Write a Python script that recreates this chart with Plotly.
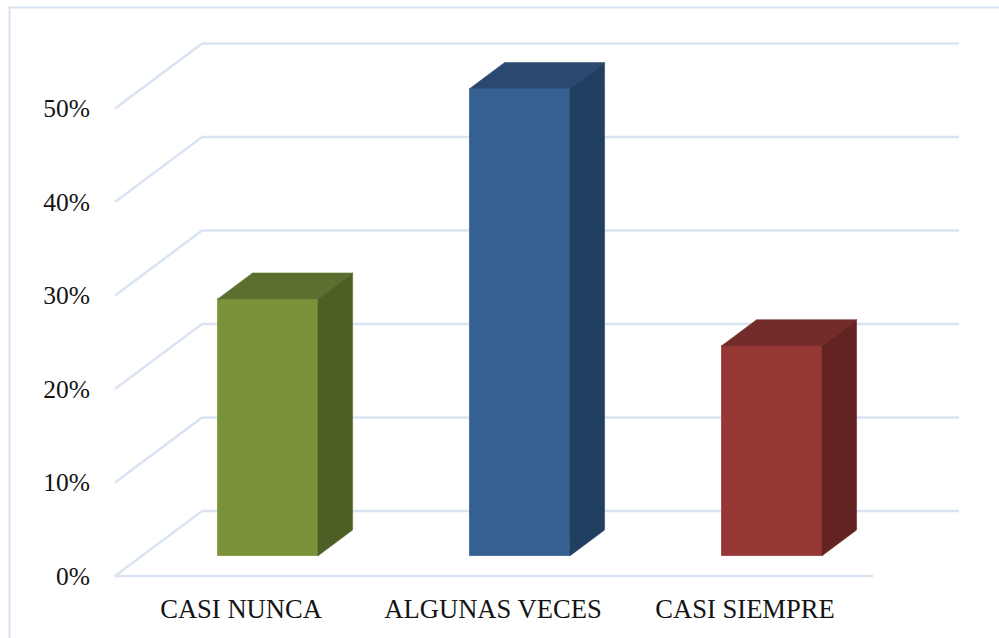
import plotly.graph_objects as go

categories = ['CASI NUNCA', 'ALGUNAS VECES', 'CASI SIEMPRE']
values = [27.5, 50, 22.5]
y_ticks = [0, 10, 20, 30, 40, 50]
y_labels = ['0%', '10%', '20%', '30%', '40%', '50%']

front_colors = ['#7a933b', '#366092', '#953735']
top_colors = ['#5b702f', '#2b4870', '#722b29']
side_colors = ['#4e5f26', '#213f60', '#632320']
edge_colors = ['#8ba24f', '#4d739f', '#a84d4b']
grid_color = '#d9e4f3'

# oblique depth, one unit in x and y per unit of depth
depth_x = 87 / 252
depth_y = 65 / 9.35
bar_width = 100 / 252
bar_near = 20 / 65   # bars start this far into the floor
bar_far = 46 / 65

axis_left = -0.5
floor_right = 2.508
grid_right = 2.849

fig = go.Figure()

# back wall and floor gridlines
for t in y_ticks:
    fig.add_shape(type='line', layer='below', xref='x', yref='y',
                  x0=axis_left, y0=t,
                  x1=axis_left + depth_x, y1=t + depth_y,
                  line=dict(color=grid_color, width=2.5))
    fig.add_shape(type='line', layer='below', xref='x', yref='y',
                  x0=axis_left + depth_x, y0=t + depth_y,
                  x1=grid_right, y1=t + depth_y,
                  line=dict(color=grid_color, width=2.5))
fig.add_shape(type='line', layer='below', xref='x', yref='y',
              x0=axis_left, y0=0, x1=floor_right, y1=0,
              line=dict(color=grid_color, width=2.5))

# front faces
fig.add_trace(go.Bar(
    x=[i + bar_near * depth_x for i in range(len(categories))],
    y=values,
    base=bar_near * depth_y,
    width=bar_width,
    marker=dict(color=front_colors, line=dict(color=edge_colors, width=1)),
    hoverinfo='skip',
    showlegend=False
))

# top and side faces
for i, v in enumerate(values):
    xl = i + bar_near * depth_x - bar_width / 2
    xr = xl + bar_width
    y0 = bar_near * depth_y
    y1 = y0 + v
    dx = (bar_far - bar_near) * depth_x
    dy = (bar_far - bar_near) * depth_y
    fig.add_trace(go.Scatter(
        x=[xl, xr, xr + dx, xl + dx, xl], y=[y1, y1, y1 + dy, y1 + dy, y1],
        mode='lines', fill='toself', fillcolor=top_colors[i],
        line=dict(color=top_colors[i], width=0.5), hoverinfo='skip', showlegend=False
    ))
    fig.add_trace(go.Scatter(
        x=[xr, xr + dx, xr + dx, xr, xr], y=[y0, y0 + dy, y1 + dy, y1, y0],
        mode='lines', fill='toself', fillcolor=side_colors[i],
        line=dict(color=side_colors[i], width=0.5), hoverinfo='skip', showlegend=False
    ))

# outer frame of the chart, runs off the top right of the page
fig.add_shape(type='rect', xref='paper', yref='paper', layer='below',
              x0=(9.5 - 110) / 855, x1=1.2, y0=-0.2, y1=(579 - 7.5) / 549,
              line=dict(color=grid_color, width=2))

fig.update_layout(
    width=999, height=638,
    margin=dict(l=110, r=34, t=30, b=59),
    paper_bgcolor='white', plot_bgcolor='white',
    font=dict(family='Liberation Serif', size=25.5, color='#141414'),
    bargap=0,
    xaxis=dict(range=[-0.52, 2.873], tickmode='array', tickvals=[0, 1, 2],
               ticktext=categories, showgrid=False, zeroline=False, showline=False,
               ticks='', ticklabelstandoff=11, tickfont=dict(size=26.6)),
    yaxis=dict(range=[-0.32, 58.4], tickmode='array', tickvals=y_ticks,
               ticktext=y_labels, showgrid=False, zeroline=False, showline=False,
               ticks='', ticklabelstandoff=19),
)

fig.write_html("out.html", config=dict(displayModeBar=False),
               post_script="document.body.style.margin='0';")
